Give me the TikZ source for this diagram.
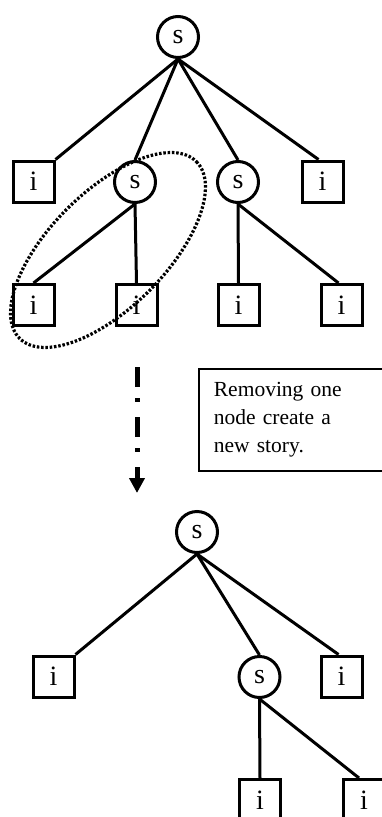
\documentclass[tikz,border=0pt]{standalone}
\usepackage{fontspec}
\setmainfont{Liberation Serif}
\usetikzlibrary{arrows.meta}
\begin{document}
\begin{tikzpicture}[x=1pt,y=-1pt,
  snode/.style={draw,circle,line width=3,minimum size=41,inner sep=0,font=\fontsize{28}{28}\selectfont},
  inode/.style={draw,rectangle,line width=3,minimum size=41,inner sep=0,font=\fontsize{28}{28}\selectfont},
  edge/.style={line width=3},
  group/.style={line width=3.2,dash pattern=on 2.5 off 1.8},
  flow/.style={line width=5,dash pattern=on 20 off 11 on 4 off 15,-{Triangle[width=15,length=15]}},
  note/.style={draw,line width=1.8,anchor=north west,text width=170,minimum height=102,inner xsep=15,inner ysep=0,align=left,font=\fontsize{21.5}{28}\selectfont}
]
\useasboundingbox (0,0) rectangle (382,817);
\clip (0,0) rectangle (382,817);
% top tree
\node[snode] (R) at (178,37) {s};
\node[inode] (A) at (33.5,181.5) {i};
\node[snode] (B) at (135,182) {s};
\node[snode] (C) at (238,182) {s};
\node[inode] (D) at (322.5,181.5) {i};
\node[inode] (E) at (33.5,305) {i};
\node[inode] (F) at (136.5,305) {i};
\node[inode] (G) at (238.5,305) {i};
\node[inode] (H) at (341.5,305) {i};
\draw[edge] (R.south) -- (A.north east);
\draw[edge] (R.south) -- (B.north);
\draw[edge] (R.south) -- (C.north);
\draw[edge] (R.south) -- ([xshift=-4]D.north);
\draw[edge] (B.south) -- (E.north);
\draw[edge] (B.south) -- (F.north);
\draw[edge] (C.south) -- (G.north);
\draw[edge] (C.south) -- ([xshift=-3]H.north);
% grouping ellipse
\coordinate (ec) at (108,250);
\draw[group,rotate around={45:(ec)}] (ec) ellipse [x radius=125, y radius=58];
% arrow and note
\coordinate (arS) at (137,367);
\coordinate (arE) at (137,493);
\draw[flow] (arS) -- (arE);
\node[note] (N) at (198,368) {Removing one\\node create a\\new story.};
% bottom tree
\node[snode] (R2) at (197,532) {s};
\node[inode] (A2) at (53.5,676.5) {i};
\node[snode] (B2) at (259.5,677) {s};
\node[inode] (C2) at (341.5,676.5) {i};
\node[inode] (D2) at (260,800) {i};
\node[inode] (E2) at (364,800) {i};
\draw[edge] (R2.south) -- (A2.north east);
\draw[edge] (R2.south) -- (B2.north);
\draw[edge] (R2.south) -- ([xshift=-3]C2.north);
\draw[edge] (B2.south) -- (D2.north);
\draw[edge] (B2.south) -- ([xshift=-5]E2.north);
\end{tikzpicture}
\end{document}
